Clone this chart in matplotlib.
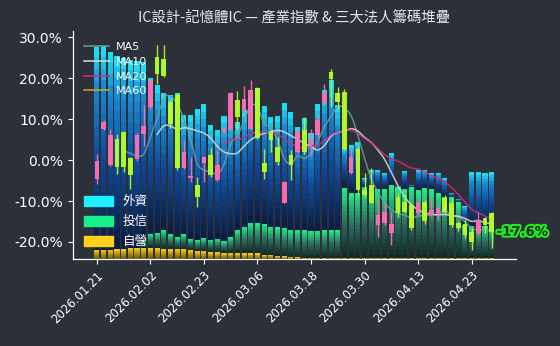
import matplotlib
matplotlib.use('Agg')
import matplotlib.pyplot as plt
import numpy as np
import pandas as pd
from matplotlib.colors import LinearSegmentedColormap
from matplotlib.patches import Patch
from matplotlib.lines import Line2D
import matplotlib.patheffects as pe

# ---------------- data ----------------
tick_labels = ['2026.01.21', '2026.02.02', '2026.02.23', '2026.03.06',
               '2026.03.18', '2026.03.30', '2026.04.13', '2026.04.23']

opens = [-4.6, 7.7, -1.2, 5.2, 6.8, 0.4, 0.2, 6.4, 13.0, 25.2,
         24.6, 14.2, 16.0, -2.0, -4.3, -6.1, -0.8, 1.2, -4.9, 6.9,
         7.7, 14.6, 12.2, 7.7, 17.5, -0.8, 6.9, 3.2, -10.4, 1.2,
         2.0, 7.3, 3.7, 6.1, 14.0, 21.5, 16.3, 16.7, -3.2, 2.8,
         -7.3, -6.1, -15.9, -15.3, -17.9, -9.0, -10.2, -11.0, -13.0, -10.2,
         -13.4, -13.0, -9.3, -10.4, -15.3, -15.5, -17.5, -17.9, -14.2, -13.0]
closes = [-0.2, 9.2, 6.1, -1.8, -1.7, -3.7, 6.2, 8.3, 19.3, 21.1,
          20.6, 8.8, -2.0, 1.9, -4.0, -9.0, 0.8, -3.7, -1.2, 7.7,
          16.3, 10.6, 15.0, 17.1, 5.5, -2.8, 4.9, -0.4, -5.3, -1.2,
          6.9, 2.0, 5.3, 9.9, 16.3, 19.9, 14.2, 2.8, 0.8, -7.3,
          -8.5, -10.4, -13.4, -12.8, -15.5, -13.0, -12.6, -16.7, -10.6, -15.0,
          -12.2, -11.8, -12.6, -15.9, -16.7, -18.3, -19.9, -14.6, -15.9, -17.6]
highs = [1.4, 9.8, 7.6, 6.3, 7.0, 0.8, 6.6, 13.4, 19.8, 28.0,
         28.0, 14.8, 16.3, 4.6, 0.8, -4.1, 1.0, 2.9, 2.4, 8.0,
         16.7, 16.8, 18.0, 19.5, 17.8, 2.8, 7.3, 5.7, -5.1, 2.4,
         7.5, 10.5, 7.5, 10.9, 18.7, 22.3, 17.9, 17.3, 2.8, 3.5,
         -3.2, -2.0, -9.8, -10.6, -12.6, -8.0, -8.5, -10.6, -9.8, -9.8,
         -9.0, -11.0, -8.5, -9.5, -14.8, -14.5, -16.7, -12.6, -14.0, -12.6]
lows = [-5.9, 7.3, -1.5, -3.3, -3.0, -7.0, -0.2, 3.4, 12.5, 18.7,
        20.3, 7.8, -2.4, -2.2, -5.3, -11.4, -5.3, -4.1, -5.0, 6.5,
        7.3, 7.7, 11.5, 7.3, 5.2, -4.5, 2.0, -1.2, -10.6, -4.9,
        1.8, 1.5, 1.0, 5.6, 13.6, 13.0, 12.7, 2.5, -3.5, -8.3,
        -9.0, -10.6, -18.7, -15.8, -20.7, -13.8, -13.0, -17.1, -13.4, -15.7,
        -13.6, -14.6, -13.0, -16.3, -17.3, -19.1, -22.0, -18.3, -17.9, -21.5]

# stacked institutional layers (chart units, stacked upward from the axis floor)
dealer = [2.3, 2.3, 2.3, 2.5, 2.5, 2.8, 2.8, 2.8, 2.8, 2.8,
          2.5, 2.5, 2.5, 2.5, 2.3, 2.0, 2.0, 1.7, 1.7, 1.5,
          1.5, 1.5, 1.4, 1.4, 1.4, 1.1, 1.1, 0.8, 0.7, 0.6,
          0.45, 0.3, 0.3, 0.3, 0.3, 0.3, 0.3, 0.3, 0.3, 0.3,
          0.3, 0.3, 0.3, 0.3, 0.3, 0.3, 0.3, 0.3, 0.3, 0.3,
          0.3, 0.3, 0.3, 0.3, 0.3, 0.3, 0.3, 0.3, 0.3, 0.3]
trust = [0.0, 0.0, 0.0, 0.0, 0.0, 0.0, 0.0, 1.95, 3.41, 3.66,
         4.63, 3.66, 2.93, 3.66, 2.68, 2.68, 3.17, 3.05, 3.29, 2.93,
         3.9, 5.61, 6.46, 7.44, 7.44, 7.56, 6.83, 7.07, 6.95, 6.59,
         6.71, 6.83, 6.59, 6.59, 6.83, 6.83, 6.83, 17.07, 15.85, 15.85,
         17.32, 16.83, 16.83, 16.83, 17.8, 17.32, 16.83, 17.32, 16.59, 17.07,
         16.83, 15.85, 14.88, 14.88, 13.66, 8.05, 7.8, 7.8, 7.8, 7.8]
foreign = [49.6, 49.76, 48.3, 47.07, 46.59, 45.85, 45.61, 43.41, 38.05, 36.1,
           33.49, 33.9, 35.12, 29.02, 30.24, 31.95, 32.68, 28.05, 26.59, 30.49,
           29.02, 26.34, 28.54, 31.22, 32.93, 28.78, 26.83, 27.07, 30.49, 28.78,
           25.12, 27.32, 23.9, 30.98, 34.15, 36.59, 30.49, 10.0, 11.71, 12.44,
           2.2, 4.63, 4.63, 3.9, 7.8, 0.2, 4.39, 0.5, 4.88, 4.39,
           3.9, 4.88, 4.63, 1.0, 0.73, 4.63, 13.17, 13.17, 12.93, 13.17]

layer_labels = ['外資', '投信', '自營']
ma_windows = [5, 10, 20, 60]

# ---------------- style ----------------
BG = '#2c3038'
Y_MIN, Y_MAX = -24.2, 31.5
cm_foreign = LinearSegmentedColormap.from_list(
    'f', [(0, '#0a1a40'), (0.45, '#0e4a9a'), (0.8, '#1888d2'), (1.0, '#1ee8f6')])
cm_trust = LinearSegmentedColormap.from_list(
    't', [(0, '#0c2822'), (0.5, '#2c6a5c'), (1.0, '#1ff08c')])
cm_dealer = LinearSegmentedColormap.from_list(
    'd', [(0, '#6a5000'), (1.0, '#ffd21a')])
UP = '#ff6eb4'
DOWN = '#b4ff2a'
ma_colors = ['#6f9aa2', '#d9dde6', '#d42a86', '#d9a21a']

fig = plt.figure(figsize=(5.6, 3.46), dpi=100, facecolor=BG)
ax = fig.add_axes([0.130, 0.251, 0.791, 0.659], facecolor=BG)

n = len(closes)
x = np.arange(n)
bw = 0.76
nsl = 18

def grad_layer(bottoms, heights, cmap):
    bottoms = np.asarray(bottoms, float)
    heights = np.asarray(heights, float)
    for k in range(nsl):
        ax.bar(x, heights / nsl, bottom=bottoms + heights * k / nsl, width=bw,
               color=cmap((k + 0.5) / nsl), linewidth=0, zorder=1)

d = np.array(dealer)
t = np.array(trust)
f = np.array(foreign)
grad_layer(np.full(n, Y_MIN), d, cm_dealer)
grad_layer(Y_MIN + d, t, cm_trust)
grad_layer(Y_MIN + d + t, f, cm_foreign)

def smooth_curve(xs, ys, sub=8):
    """Catmull-Rom rendering of a computed series (display smoothing only)."""
    xs = np.asarray(xs, float); ys = np.asarray(ys, float)
    if len(xs) < 3:
        return xs, ys
    px = np.concatenate([[2 * xs[0] - xs[1]], xs, [2 * xs[-1] - xs[-2]]])
    py = np.concatenate([[2 * ys[0] - ys[1]], ys, [2 * ys[-1] - ys[-2]]])
    ox, oy = [], []
    tt = np.linspace(0, 1, sub, endpoint=False)
    for i in range(1, len(px) - 2):
        for P, out in ((px, ox), (py, oy)):
            p0, p1, p2, p3 = P[i - 1], P[i], P[i + 1], P[i + 2]
            out.extend(0.5 * ((2 * p1) + (-p0 + p2) * tt +
                              (2 * p0 - 5 * p1 + 4 * p2 - p3) * tt ** 2 +
                              (-p0 + 3 * p1 - 3 * p2 + p3) * tt ** 3))
    ox.append(xs[-1]); oy.append(ys[-1])
    return np.array(ox), np.array(oy)

# moving averages
cs = pd.Series(closes)
for w, c in zip(ma_windows, ma_colors):
    ma = cs.rolling(w).mean()
    valid = ma.notna().to_numpy()
    sx, sy = smooth_curve(x[valid], ma[valid].to_numpy())
    ax.plot(sx, sy, color=c, lw=1.1, alpha=0.85, zorder=3)

# candles
o = np.array(opens); cl = np.array(closes); hi = np.array(highs); lo = np.array(lows)
cols = [UP if cc >= oo else DOWN for oo, cc in zip(o, cl)]
ax.vlines(x, lo, hi, colors=cols, lw=1.0, alpha=0.9, zorder=4)
body_h = np.abs(cl - o)
body_h = np.where(body_h < 0.3, 0.3, body_h)
ax.bar(x, body_h, bottom=np.minimum(o, cl), width=0.7, color=cols,
       linewidth=0, alpha=0.95, zorder=5)

# last value label
ax.text(n - 1 + 0.75, closes[-1], f'{closes[-1]:.1f}%', ha='left', va='center',
        fontsize=9.5, fontweight='bold', color='#0c2c0c', zorder=6,
        path_effects=[pe.withStroke(linewidth=3, foreground='#22ee22')])

# axes styling
ax.set_xlim(-3.6, n - 1 + 3.6)
ax.set_ylim(Y_MIN, Y_MAX)
ticks_y = [-20, -10, 0, 10, 20, 30]
ax.set_yticks(ticks_y)
ax.set_yticklabels([f'{v:.1f}%' for v in ticks_y])
ax.set_xticks(np.arange(0, n, 8))
ax.set_xticklabels(tick_labels, rotation=45, ha='right', rotation_mode='anchor')
ax.tick_params(axis='y', colors='white', labelsize=10, length=3.5)
ax.tick_params(axis='x', colors='white', labelsize=8.5, length=3.5)
for s in ['top', 'right']:
    ax.spines[s].set_visible(False)
for s in ['left', 'bottom']:
    ax.spines[s].set_color('white')
    ax.spines[s].set_linewidth(0.9)

ax.set_title('IC設計-記憶體IC — 產業指數 & 三大法人籌碼堆疊', color='#e8e8e8',
             fontsize=10.4, family=['Noto Sans CJK TC', 'DejaVu Sans'], pad=6)

# legends
ma_handles = [Line2D([0], [0], color=c, lw=1.1) for c in ma_colors]
leg1 = ax.legend(ma_handles, [f'MA{w}' for w in ma_windows], loc='upper left',
                 frameon=False, fontsize=8, labelcolor='white', handlelength=2.3,
                 handletextpad=0.6, labelspacing=0.42, borderaxespad=0.6)
ax.add_artist(leg1)
layer_handles = [Patch(color='#1ef0ff'), Patch(color='#17f08a'), Patch(color='#ffd21a')]
ax.legend(layer_handles, layer_labels, loc='lower left', frameon=False,
          prop={'family': ['Noto Sans CJK TC', 'DejaVu Sans'], 'size': 9},
          labelcolor='white', handlelength=2.3, handleheight=0.85,
          labelspacing=0.55, borderaxespad=0.5)

fig.savefig('out.png', dpi=100, facecolor=BG)
